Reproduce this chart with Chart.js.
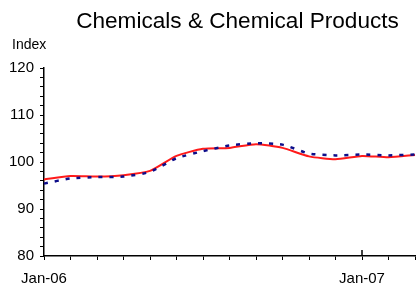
<!DOCTYPE html>
<html>
<head>
<meta charset="utf-8">
<script src="https://cdn.jsdelivr.net/npm/chart.js@4"></script>
<style>
  html, body { margin: 0; padding: 0; background: #fff; }
</style>
</head>
<body>
<canvas id="chem" width="416" height="289"></canvas>
<script>
const months = ['Jan-06', 'Feb-06', 'Mar-06', 'Apr-06', 'May-06', 'Jun-06', 'Jul-06', 'Aug-06',
    'Sep-06', 'Oct-06', 'Nov-06', 'Dec-06', 'Jan-07', 'Feb-07', 'Mar-07'];
const shownLabels = ['Jan-06', 'Jan-07'];
const redSeries = [96.3, 97.0, 96.9, 97.2, 98.1, 101.3, 102.8, 103.0, 103.8, 103.0, 101.2, 100.6, 101.3, 101.0, 101.5];
const blueSeries = [95.4, 96.5, 96.8, 96.9, 97.9, 100.8, 102.3, 103.5, 104.0, 103.7, 101.8, 101.4, 101.6, 101.4, 101.6];
const yTicks = [80, 90, 100, 110, 120];

const FONT = "'Liberation Sans', Arial, Helvetica, sans-serif";

// title, axis caption and the year tick that pokes into the plot
const extras = {
    id: 'extras',
    afterDraw(chart) {
        const ctx = chart.ctx;
        const x = chart.scales.x;
        ctx.save();
        ctx.fillStyle = '#000';
        ctx.textBaseline = 'alphabetic';
        ctx.textAlign = 'center';
        ctx.font = '22.6px ' + FONT;
        ctx.fillText('Chemicals & Chemical Products', 237.5, 28);
        ctx.textAlign = 'left';
        ctx.font = '14px ' + FONT;
        ctx.fillText('Index', 12, 49);

        ctx.strokeStyle = '#000';
        ctx.lineWidth = 1.5;
        months.forEach(function (m, i) {
            if (i > 0 && shownLabels.includes(m)) {
                const px = x.getPixelForValue(i);
                ctx.beginPath();
                ctx.moveTo(px, x.top);
                ctx.lineTo(px, x.top - 6);
                ctx.stroke();
            }
        });
        ctx.restore();
    }
};

const chem = document.getElementById('chem');

new Chart(chem, {
    type: 'line',
    data: {
        labels: months,
        datasets: [{
            label: 'dotted',
            data: blueSeries,
            borderColor: '#0d0d8a',
            borderWidth: 2.5,
            borderDash: [4, 7],
            pointRadius: 0,
            tension: 0.2,
            fill: false
        }, {
            label: 'solid',
            data: redSeries,
            borderColor: '#ff1a1a',
            borderWidth: 2,
            pointRadius: 0,
            tension: 0.2,
            fill: false
        }]
    },
    options: {
        responsive: false,
        animation: false,
        layout: { padding: { top: 68, right: 1, left: 0, bottom: 0 } },
        plugins: {
            legend: { display: false },
            tooltip: { enabled: false }
        },
        scales: {
            x: {
                offset: false,
                grid: { drawOnChartArea: false, drawTicks: true, tickLength: 4, color: '#000' },
                border: { display: true, color: '#000', width: 1.5 },
                ticks: {
                    autoSkip: false,
                    maxRotation: 0,
                    color: '#000',
                    font: { family: FONT, size: 15 },
                    padding: 10,
                    callback: function (v) {
                        const l = months[v];
                        return shownLabels.includes(l) ? l : '';
                    }
                },
                afterFit: function (s) {
                    s.height = 33;
                    s.paddingLeft = 0;
                    s.paddingRight = 0;
                }
            },
            y: {
                min: 80,
                max: 120,
                grid: { drawOnChartArea: false, drawTicks: true, tickLength: 4, color: '#000' },
                border: { display: true, color: '#000', width: 1.5 },
                ticks: {
                    stepSize: 2,
                    autoSkip: false,
                    color: '#000',
                    font: { family: FONT, size: 15 },
                    padding: 6,
                    callback: function (v) { return yTicks.includes(v) ? v : ''; }
                },
                afterFit: function (s) { s.width = 44; }
            }
        }
    },
    plugins: [extras]
});
</script>
</body>
</html>
